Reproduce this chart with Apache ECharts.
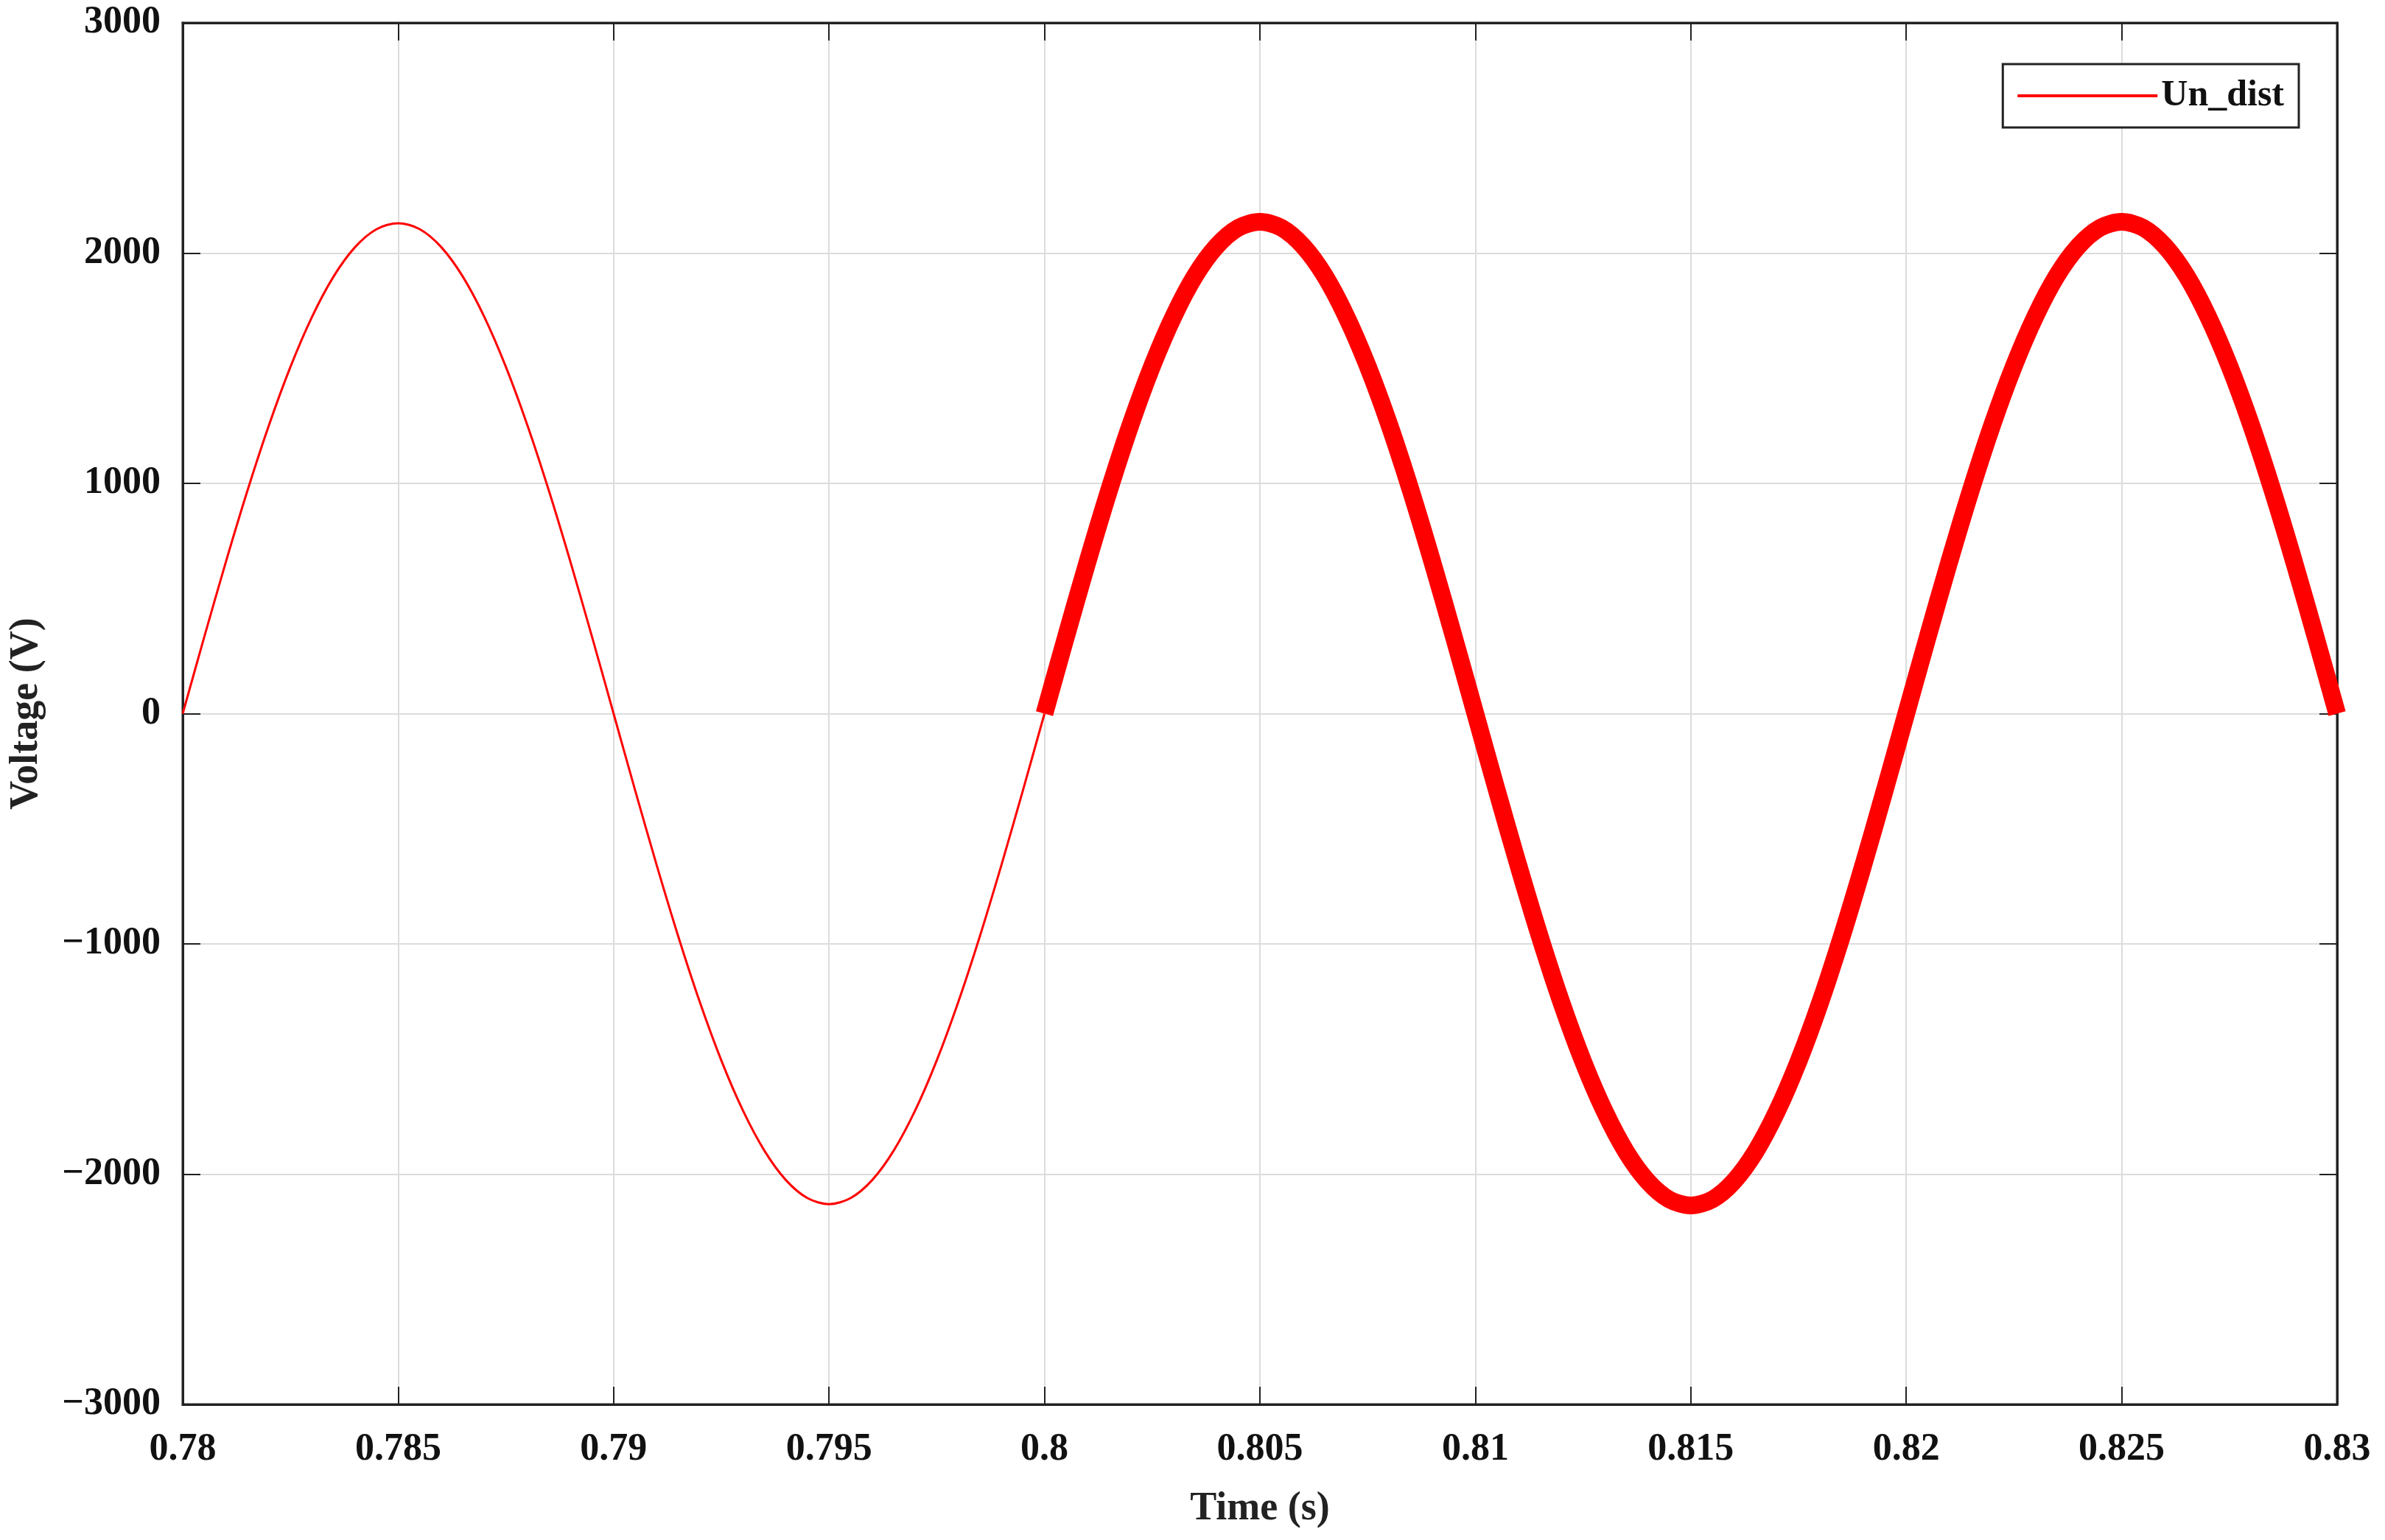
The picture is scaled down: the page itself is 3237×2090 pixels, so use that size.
<!DOCTYPE html>
<html>
<head>
<meta charset="utf-8">
<script src="https://cdn.jsdelivr.net/npm/echarts@6/dist/echarts.min.js"></script>
<style>html,body{margin:0;background:#fff}#main{width:3237px;height:2090px}</style>
</head>
<body>
<div id="main"></div>
<script>
// sampled waveform, step 0.0005 s
var step = 0.0005;
var start1 = 0.78, start2 = 0.80;
var volt1 = [0,333,658,967,1252,1506,1723,1898,2026,2104,2130,2104,2026,1898,1723,1506,1252,967,658,333,0,
  -333,-658,-967,-1252,-1506,-1723,-1898,-2026,-2104,-2130,-2104,-2026,-1898,-1723,-1506,-1252,-967,-658,-333,0];
var volt2 = [0,334,660,970,1256,1510,1727,1903,2031,2110,2136,2110,2031,1903,1727,1510,1256,970,660,334,0,
  -334,-660,-970,-1256,-1510,-1727,-1903,-2031,-2110,-2136,-2110,-2031,-1903,-1727,-1510,-1256,-970,-660,-334,0,
  334,660,970,1256,1510,1727,1903,2031,2110,2136,2110,2031,1903,1727,1510,1256,970,660,334,0];
var xTicks = ['0.78','0.785','0.79','0.795','0.8','0.805','0.81','0.815','0.82','0.825','0.83'];

function pairs(t0, arr){
	return arr.map(function(v,i){ return [+(t0 + i*step).toFixed(4), v]; });
}
var font = 'Liberation Serif';
var chart = echarts.init(document.getElementById('main'));
var option = {
	animation: false,
	grid: {left: 248, right: 65, top: 31, bottom: 184, show: true, borderColor: '#222', borderWidth: 3},
	legend: {
		right: 117, top: 87, orient: 'vertical',
		itemWidth: 190, itemHeight: 4, itemGap: 0,
		padding: [18, 20, 18, 20],
		borderColor: '#222', borderWidth: 3, backgroundColor: '#fff',
		textStyle: {fontFamily: font, fontWeight: 'bold', fontSize: 50, color: '#111'},
		data: [{name: 'Un_dist', icon: 'rect', itemStyle: {color: '#ff0000'}}]
	},
	xAxis: [{
		type: 'value', min: 0.78, max: 0.83, interval: 0.005,
		name: 'Time (s)', nameLocation: 'middle', nameGap: 115,
		nameTextStyle: {fontFamily: font, fontWeight: 'bold', fontSize: 54, color: '#222'},
		axisLine: {onZero: false, lineStyle: {color: '#222', width: 3}},
		axisTick: {inside: true, length: 24, lineStyle: {color: '#222', width: 2}},
		axisLabel: {fontFamily: font, fontWeight: 'bold', fontSize: 52, color: '#111', margin: 36,
			formatter: function(v){ var s = v.toFixed(3).replace(/0+$/,''); return xTicks.indexOf(s) >= 0 ? s : ''; }},
		splitLine: {show: true, lineStyle: {color: '#dcdcdc', width: 2}}
	}, {
		type: 'value', position: 'top', min: 0.78, max: 0.83, interval: 0.005,
		axisLine: {onZero: false, lineStyle: {color: '#222', width: 3}},
		axisTick: {inside: true, length: 24, lineStyle: {color: '#222', width: 2}},
		axisLabel: {show: false}, splitLine: {show: false}
	}],
	yAxis: [{
		type: 'value', min: -3000, max: 3000, interval: 1000,
		name: 'Voltage (V)', nameLocation: 'middle', nameGap: 185,
		nameTextStyle: {fontFamily: font, fontWeight: 'bold', fontSize: 54, color: '#222'},
		axisLine: {onZero: false, lineStyle: {color: '#222', width: 3}},
		axisTick: {inside: true, length: 24, lineStyle: {color: '#222', width: 2}},
		axisLabel: {fontFamily: font, fontWeight: 'bold', fontSize: 52, color: '#111', margin: 30,
			formatter: function(v){ return v < 0 ? '\u2212' + (-v) : '' + v; }},
		splitLine: {show: true, lineStyle: {color: '#dcdcdc', width: 2}}
	}, {
		type: 'value', position: 'right', min: -3000, max: 3000, interval: 1000,
		axisLine: {onZero: false, lineStyle: {color: '#222', width: 3}},
		axisTick: {inside: true, length: 24, lineStyle: {color: '#222', width: 2}},
		axisLabel: {show: false}, splitLine: {show: false}
	}],
	series: [{
		name: 'Un_dist', type: 'line', smooth: 0.3, symbol: 'none',
		lineStyle: {color: '#ff0000', width: 3},
		data: pairs(start1, volt1)
	}, {
		name: 'Un_dist', type: 'line', smooth: 0.3, symbol: 'none',
		lineStyle: {color: '#ff0000', width: 24},
		data: pairs(start2, volt2)
	}]
};
chart.setOption(option);
</script>
</body>
</html>
